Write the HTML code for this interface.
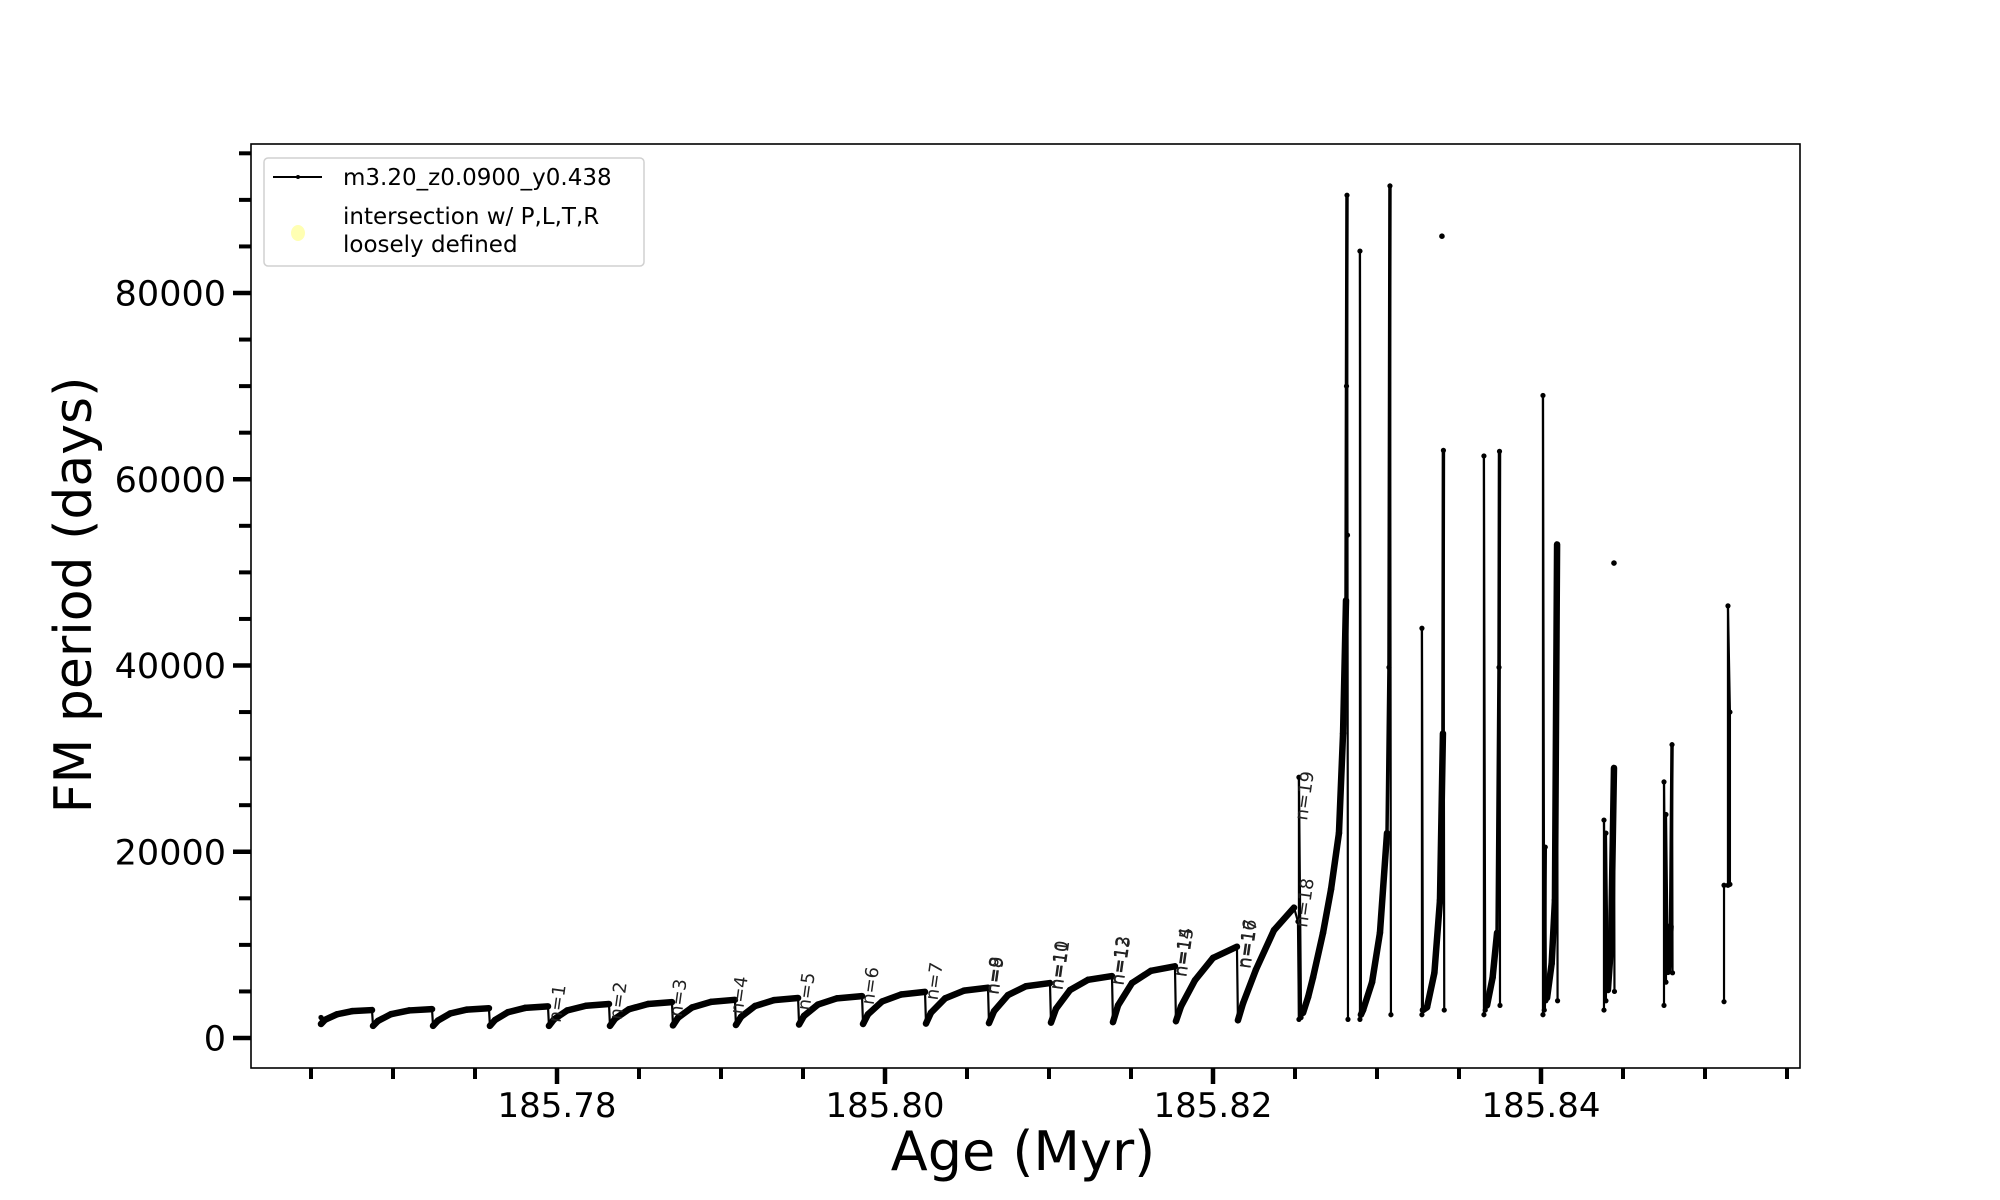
<!DOCTYPE html>
<html>
<head>
<meta charset="utf-8">
<style>
html,body{margin:0;padding:0;background:#fff;}
svg{display:block;font-family:"DejaVu Sans","Liberation Sans",sans-serif;}
</style>
</head>
<body>
<svg id="chart" width="2000" height="1200" viewBox="0 0 2000 1200" xmlns="http://www.w3.org/2000/svg">
  <rect x="0" y="0" width="2000" height="1200" fill="#fff"/>
  <g id="plot"></g>
  <rect x="251" y="144" width="1549" height="924" fill="none" stroke="#000" stroke-width="1.6"/>
  <g id="axes"></g>
  <text x="1023" y="1170" font-size="54" text-anchor="middle">Age (Myr)</text>
  <text transform="translate(91,595) rotate(-90)" font-size="52" text-anchor="middle">FM period (days)</text>
  <g>
    <rect x="264" y="158" width="380" height="108" rx="4" fill="#fff" stroke="#d0d0d0" stroke-width="1.5"/>
    <g>
      <line x1="273" y1="177" x2="322" y2="177" stroke="#000" stroke-width="2"/>
      <circle cx="298" cy="177" r="2" fill="#000"/>
      <text x="343" y="185" font-size="23">m3.20_z0.0900_y0.438</text>
    </g>
    <g>
      <ellipse cx="298" cy="233" rx="7" ry="8" fill="#ffffb3"/>
      <text x="343" y="224" font-size="23">intersection w/ P,L,T,R</text>
      <text x="343" y="252" font-size="23">loosely defined</text>
    </g>
  </g>
</svg>
<script>
// ---- data (null = gap in the line) ----
const ages = [
185.76561,185.76561,185.76585,185.76659,185.76750,185.76872,
185.76878,185.76909,185.76988,185.77098,185.77238,
185.77244,185.77274,185.77348,185.77451,185.77585,
185.77591,185.77622,185.77701,185.77805,185.77945,
185.77951,185.77982,185.78061,185.78177,185.78317,
185.78323,185.78354,185.78439,185.78555,185.78701,
185.78707,185.78738,185.78823,185.78939,185.79085,
185.79091,185.79122,185.79207,185.79323,185.79470,
185.79476,185.79506,185.79591,185.79707,185.79860,
185.79866,185.79896,185.79982,185.80098,185.80244,
185.80250,185.80280,185.80366,185.80482,185.80628,
185.80634,185.80665,185.80750,185.80860,185.81006,
185.81012,185.81043,185.81128,185.81238,185.81384,
185.81390,185.81421,185.81506,185.81622,185.81768,
185.81774,185.81805,185.81890,185.82000,185.82146,
185.82152,185.82183,185.82262,185.82372,185.82494,185.82518,
185.82524,185.82524,185.82537,
185.82549,185.82580,185.82610,185.82671,185.82720,185.82768,185.82793,185.82811,185.82814,185.82817,185.82820,185.82823,null,
185.82896,185.82896,185.82902,185.82915,185.82970,185.83018,185.83061,185.83073,185.83079,185.83085,null,
185.83274,185.83274,185.83280,185.83305,185.83350,185.83384,185.83402,185.83405,185.83410,null,
185.83652,185.83652,185.83660,185.83671,185.83705,185.83732,185.83744,185.83747,185.83750,null,
185.84012,185.84012,185.84020,185.84026,185.84030,185.84037,185.84065,185.84085,185.84098,185.84101,null,
185.84384,185.84384,185.84396,185.84396,185.84408,185.84427,185.84445,185.84448,null,
185.84750,185.84750,185.84762,185.84762,185.84774,185.84790,185.84799,185.84802,null,
185.85116,185.85116,185.85140,185.85140,185.85152,185.85152
];
const periods = [
2200,1500,1950,2550,2880,3000,
1300,1840,2560,2960,3100,
1300,1870,2630,3050,3200,
1300,1930,2770,3230,3400,
1300,2010,2950,3460,3650,
1300,2070,3090,3650,3850,
1350,2180,3280,3880,4100,
1400,2270,3430,4070,4300,
1450,2370,3590,4260,4500,
1500,2540,3920,4670,4950,
1550,2710,4250,5090,5400,
1600,2890,4610,5560,5900,
1650,3150,5150,6250,6650,
1700,3500,5900,7220,7700,
1800,3400,6200,8600,9800,
1900,3720,7350,11580,14000,12500,
2000,28000,2200,
2700,4400,6500,11300,16000,22000,32700,47000,70000,90500,54000,2000,null,
2000,84500,2500,3000,6000,11300,22000,39800,91500,2500,null,
2500,44000,3000,3300,7000,14800,32700,63100,3000,null,
2500,62500,3000,3500,6500,11300,39800,63000,3500,null,
2500,69000,3000,20500,4000,4300,8000,14800,53000,4000,null,
3000,23400,4000,22000,5150,10000,29000,5000,null,
3500,27500,6000,24000,7100,12000,31500,7000,null,
3900,16400,16400,46400,35000,16500
];
const isolatedAges = [185.83396, 185.84445];
const isolatedPeriods = [86100, 51000];
const labelTexts = ["n=1","n=2","n=3","n=4","n=5","n=6","n=7","n=8","n=9","n=10","n=11","n=12","n=13","n=14","n=15","n=16","n=17","n=18","n=19"];
const labelAges = [185.78021,185.78393,185.78759,185.79131,185.79540,185.79930,185.80320,185.80686,185.80692,185.81076,185.81082,185.81448,185.81454,185.81832,185.81838,185.82222,185.82228,185.82573,185.82573];
const labelPeriods = [1600,1900,2200,2500,2900,3500,4000,4600,4600,5100,5100,5600,5600,6500,6500,7400,7400,11800,23300];
const xTickValues = [185.78,185.80,185.82,185.84];
const xTickLabels = ["185.78","185.80","185.82","185.84"];
const yTickValues = [0,20000,40000,60000,80000];
const yTickLabels = ["0","20000","40000","60000","80000"];

// ---- scales ----
const X0 = 557, XPER = 16400, Y0 = 1038, YPER = 186.25/20000;
function xs(a){ return X0 + (a - 185.78) * XPER; }
function ys(v){ return Y0 - v * YPER; }
const NS = "http://www.w3.org/2000/svg";
const plot = document.getElementById('plot');
const axes = document.getElementById('axes');
function mk(tag, attrs, parent){
  const e = document.createElementNS(NS, tag);
  for (const k in attrs) e.setAttribute(k, attrs[k]);
  parent.appendChild(e);
  return e;
}

// ---- series ----
const seriesG = mk('g', {}, plot);


for (let i = 1; i < ages.length; i++){
  if (ages[i-1] === null || ages[i] === null) continue;
  const x1 = xs(ages[i-1]), y1 = ys(periods[i-1]), x2 = xs(ages[i]), y2 = ys(periods[i]);
  const rising = periods[i] > periods[i-1];
  const dx = Math.abs(x2 - x1);
  let w = 2.2;
  if (rising && dx >= 2) w = 6.5;
  else if (rising && dx > 0.05) w = 3.5;
  const seg = mk('line', {x1:x1, y1:y1, x2:x2, y2:y2, stroke:'#000', 'stroke-width': w, 'stroke-linecap':'round'}, seriesG);
  
  
}
for (let i = 0; i < ages.length; i++){
  if (ages[i] === null) continue;
  const p = mk('circle', {cx:xs(ages[i]), cy:ys(periods[i]), r:2.6, fill:'#000'}, seriesG);
  
  
}
for (let i = 0; i < isolatedAges.length; i++){
  const p = mk('circle', {cx:xs(isolatedAges[i]), cy:ys(isolatedPeriods[i]), r:2.8, fill:'#000'}, seriesG);
  
  
}

// ---- n labels ----
for (let i = 0; i < labelTexts.length; i++){
  const x = xs(labelAges[i]), y = ys(labelPeriods[i]);
  const t = mk('text', {transform:'translate(' + x + ',' + y + ') rotate(-82)', 'font-size':18, fill:'#222'}, plot);
  t.textContent = labelTexts[i];
  
  
}

// ---- x ticks ----
for (let k = 0; k <= 18; k++){
  const a = 185.765 + k * 0.005;
  const x = xs(a);
  if (x < 251 || x > 1800.5) continue;
  const isMajor = Math.abs((a - 185.78) / 0.02 - Math.round((a - 185.78) / 0.02)) < 1e-6;
  const tk = mk('line', {x1:x, y1:1068, x2:x, y2: isMajor ? 1084 : 1079, stroke:'#000', 'stroke-width': isMajor ? 4.5 : 4}, axes);
  
  
}
for (let i = 0; i < xTickValues.length; i++){
  const t = mk('text', {x:xs(xTickValues[i]), y:1117, 'font-size':34, 'text-anchor':'middle'}, axes);
  t.textContent = xTickLabels[i];
  
  
}
// ---- y ticks ----
for (let v = 0; v <= 95000; v += 5000){
  const y = ys(v);
  const isMajor = v % 20000 === 0;
  const tk = mk('line', {x1: isMajor ? 233 : 239, y1:y, x2:251, y2:y, stroke:'#000', 'stroke-width': isMajor ? 4.5 : 4}, axes);
  
  
}
for (let i = 0; i < yTickValues.length; i++){
  const t = mk('text', {x:226, y:ys(yTickValues[i]) + 12.5, 'font-size':35, 'text-anchor':'end'}, axes);
  t.textContent = yTickLabels[i];
  
  
}
</script>
</body>
</html>
